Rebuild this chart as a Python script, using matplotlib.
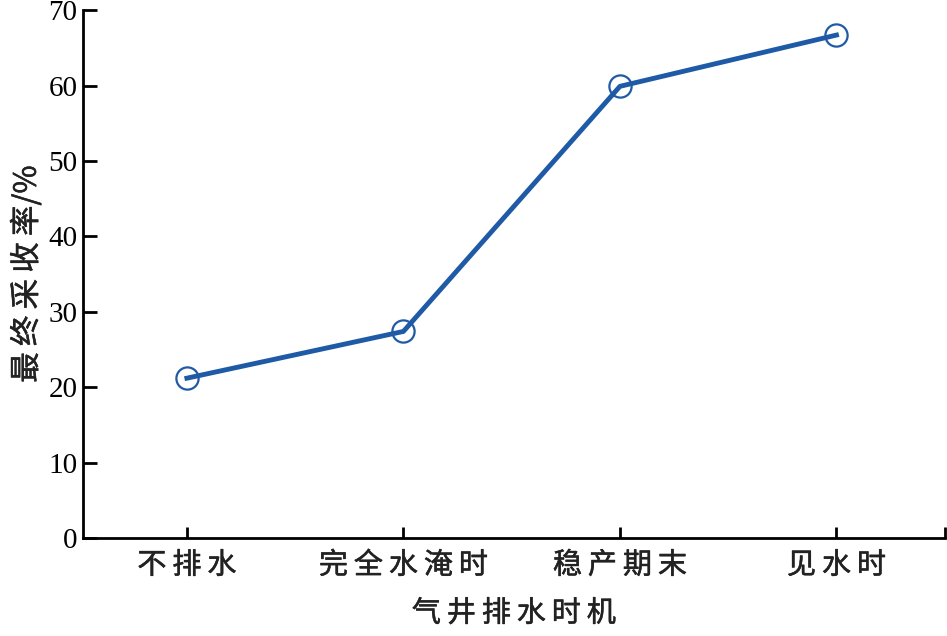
import matplotlib.pyplot as plt
import matplotlib.patheffects as pe

# 数据
categories = ['不排水', '完全水淹时', '稳产期末', '见水时']
recovery = [21.2, 27.4, 59.9, 66.7]
y_ticks = [0, 10, 20, 30, 40, 50, 60, 70]

plt.rcParams['font.family'] = ['Liberation Serif', 'Noto Sans CJK SC', 'DejaVu Sans']

fig = plt.figure(figsize=(9.47, 6.36), dpi=100)
ax = fig.add_axes([0.0876, 0.154, 0.910, 0.830])

x = list(range(len(categories)))
ax.plot(x, recovery, color='#1f5aa6', linewidth=3.5, marker='o',
        markersize=16, markerfacecolor='none', markeredgecolor='#1f5aa6',
        markeredgewidth=1.6)

ax.set_xlim(-0.48, 3.5)
ax.set_ylim(0, 70)
ax.set_yticks(y_ticks)
ax.set_xticks(x + [3.5])

# 中文略加粗
thick = [pe.withStroke(linewidth=0.35, foreground='#222222')]
cjk = ['Noto Sans CJK SC', 'DejaVu Sans']

spaced = ['\u2009'.join(c) for c in categories]
ax.set_xticklabels(spaced + [''], fontsize=21, family=cjk, color='#222222')
for t in ax.get_xticklabels():
    t.set_path_effects(thick)
ax.tick_params(axis='y', labelsize=21, direction='in', length=10, width=2, pad=4)
ax.tick_params(axis='x', direction='in', length=8, width=2, pad=9)

ax.spines['top'].set_visible(False)
ax.spines['right'].set_visible(False)
ax.spines['left'].set_linewidth(2)
ax.spines['bottom'].set_linewidth(2)

yl = ax.set_ylabel('\u2009'.join('最终采收率') + '/%', fontsize=22,
                   family=cjk, color='#222222', labelpad=4)
xl = ax.set_xlabel('\u2009'.join('气井排水时机'), fontsize=21,
                   family=cjk, color='#222222', labelpad=13)
yl.set_path_effects(thick)
xl.set_path_effects(thick)

fig.savefig('out.png', dpi=100)
